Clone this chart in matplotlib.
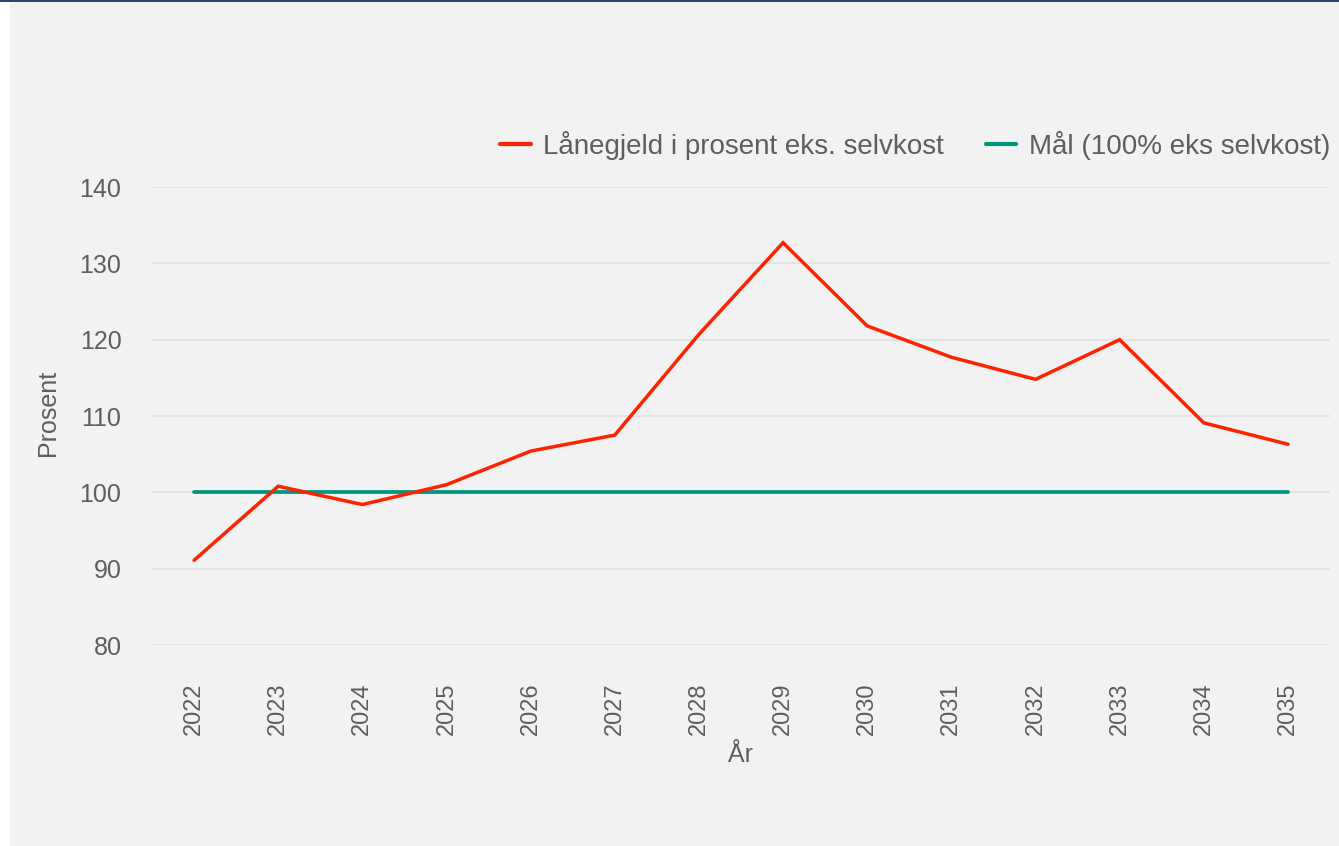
import matplotlib
matplotlib.use("Agg")
import matplotlib.pyplot as plt
from matplotlib.patches import Rectangle

# Data
years = ["2022", "2023", "2024", "2025", "2026", "2027", "2028",
         "2029", "2030", "2031", "2032", "2033", "2034", "2035"]
lanegjeld = [91.1, 100.8, 98.4, 101.0, 105.4, 107.5, 120.7,
             132.7, 121.8, 117.7, 114.8, 120.0, 109.1, 106.3]
maal = [100] * len(years)
yticks = [80, 90, 100, 110, 120, 130, 140]

label_red = "Lånegjeld i prosent eks. selvkost"
label_teal = "Mål (100% eks selvkost)"

TEXT = "#5E5E5E"
BG = "#F2F2F2"
plt.rcParams["font.family"] = ["Liberation Sans", "DejaVu Sans"]

W, H = 1339, 846
fig = plt.figure(figsize=(W / 100, H / 100), dpi=100, facecolor="white")

# Panel background and top rule
fig.patches.append(Rectangle((10 / W, 0), 1 - 10 / W, 1 - 2 / H,
                             transform=fig.transFigure, facecolor=BG,
                             edgecolor="none", zorder=-2))
fig.patches.append(Rectangle((0, 1 - 2 / H), 1, 2 / H,
                             transform=fig.transFigure, facecolor="#2B4565",
                             edgecolor="none", zorder=-2))

ax = fig.add_axes([152 / W, 1 - 645 / H, (1330 - 152) / W, (645 - 187) / H])
ax.set_zorder(1)
ax.patch.set_alpha(0)

x = list(range(len(years)))
ax.plot(x, lanegjeld, color="#FF2200", lw=2.5, solid_joinstyle="miter",
        solid_capstyle="round", label=label_red, zorder=3, clip_on=False)
ax.plot(x, maal, color="#00957F", lw=2.7, solid_capstyle="round",
        label=label_teal, zorder=2, clip_on=False)

ax.set_xlim(-0.5, len(years) - 0.5)
ax.set_ylim(80, 140)
ax.set_yticks(yticks)
ax.set_xticks(x)
ax.set_xticklabels(years, rotation=90, va="top", ha="center")
ax.tick_params(axis="both", length=0, labelcolor=TEXT)
ax.tick_params(axis="x", pad=27, labelsize=17)
ax.tick_params(axis="y", pad=22, labelsize=18)
ax.grid(axis="y", color="#E2E2E2", lw=1.3)
ax.set_axisbelow(True)
for s in ax.spines.values():
    s.set_visible(False)

fig.text(48 / W, 1 - 413 / H, "Prosent", rotation=90, ha="center",
         va="center", fontsize=18, color=TEXT)
fig.text(741 / W, 1 - 755 / H, "År", ha="center", va="center",
         fontsize=18, color=TEXT)

leg = fig.legend(loc="center right", bbox_to_anchor=(1330 / W, 1 - 145 / H),
                 ncol=2, frameon=False, fontsize=20, labelcolor=TEXT,
                 handlelength=1.1, handletextpad=0.45, columnspacing=1.5,
                 borderpad=0, borderaxespad=0)
for line in leg.get_lines():
    line.set_linewidth(3)

fig.savefig("out.png", dpi=100, facecolor=fig.get_facecolor())
